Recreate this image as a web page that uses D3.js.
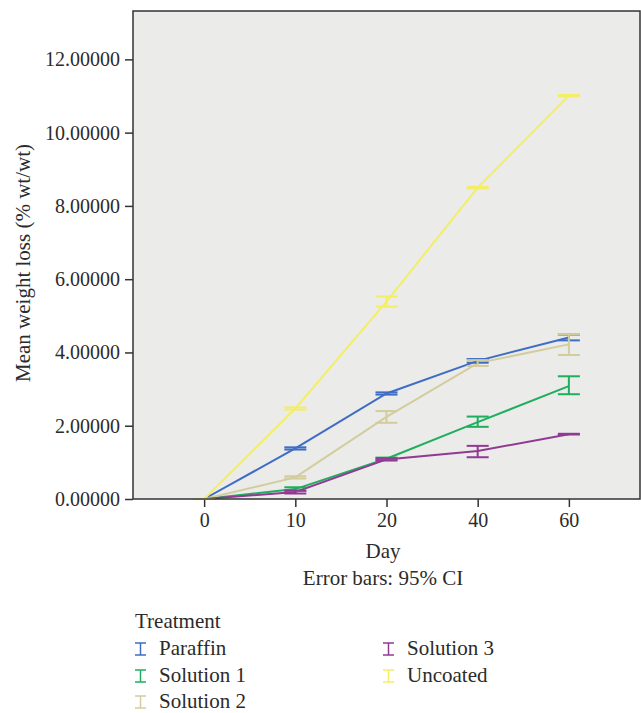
<!DOCTYPE html>
<html>
<head>
<meta charset="utf-8">
<script src="https://cdn.jsdelivr.net/npm/d3@7"></script>
<style>
body { margin: 0; background: #fff; }
svg text { font-family: "Liberation Serif", "DejaVu Serif", serif; fill: #2b2b2b; }
</style>
</head>
<body>
<div id="chart"></div>
<script>
// days on the x axis (categorical)
const days = ["0", "10", "20", "40", "60"];
const yTicks = [0, 2, 4, 6, 8, 10, 12];
const treatments = ["Paraffin", "Solution 1", "Solution 2", "Solution 3", "Uncoated"];
const colors = ["#3f6dc4", "#1fae5e", "#d3cc9c", "#913a93", "#f3ee66"];

// means, and 95% CI bounds
const paraffin     = [0, 1.38, 2.88, 3.77, 4.41];
const paraffinLo   = [0, 1.35, 2.85, 3.72, 4.33];
const paraffinHi   = [0, 1.41, 2.91, 3.82, 4.49];
const solution1    = [0, 0.27, 1.10, 2.10, 3.08];
const solution1Lo  = [0, 0.22, 1.07, 1.97, 2.86];
const solution1Hi  = [0, 0.32, 1.13, 2.25, 3.35];
const solution2    = [0, 0.59, 2.24, 3.71, 4.22];
const solution2Lo  = [0, 0.56, 2.08, 3.63, 3.93];
const solution2Hi  = [0, 0.62, 2.40, 3.79, 4.50];
const solution3    = [0, 0.19, 1.08, 1.31, 1.77];
const solution3Lo  = [0, 0.15, 1.05, 1.14, 1.76];
const solution3Hi  = [0, 0.23, 1.11, 1.45, 1.78];
const uncoated     = [0, 2.47, 5.39, 8.50, 11.01];
const uncoatedLo   = [0, 2.44, 5.25, 8.48, 10.99];
const uncoatedHi   = [0, 2.50, 5.53, 8.52, 11.03];

const series = [
  { name: treatments[0], mean: paraffin,  lo: paraffinLo,  hi: paraffinHi },
  { name: treatments[1], mean: solution1, lo: solution1Lo, hi: solution1Hi },
  { name: treatments[2], mean: solution2, lo: solution2Lo, hi: solution2Hi },
  { name: treatments[3], mean: solution3, lo: solution3Lo, hi: solution3Hi },
  { name: treatments[4], mean: uncoated,  lo: uncoatedLo,  hi: uncoatedHi }
];
series.forEach((s, i) => s.color = colors[i]);

const W = 641, H = 713;
const plot = { left: 133, right: 640, top: 11, bottom: 499 };

const svg = d3.select("#chart").append("svg")
  .attr("width", W).attr("height", H);

const x = d3.scalePoint()
  .domain(days)
  .range([plot.left, plot.right])
  .padding(0.78);

const y = d3.scaleLinear()
  .domain([0, 13.32])
  .range([plot.bottom, plot.top]);

// plot background
svg.append("rect")
  .attr("x", plot.left).attr("y", plot.top)
  .attr("width", plot.right - plot.left).attr("height", plot.bottom - plot.top)
  .attr("fill", "#ebebea");

// y axis
const yAxis = svg.append("g")
  .attr("transform", "translate(" + plot.left + ",0)")
  .call(d3.axisLeft(y).tickValues(yTicks).tickSize(8).tickSizeOuter(0).tickPadding(5)
    .tickFormat(d3.format(".5f")));
yAxis.select(".domain").remove();
yAxis.selectAll("line").attr("stroke", "#333").attr("stroke-width", 1.5);
yAxis.selectAll("text").style("font-size", "20px").attr("fill", "#2b2b2b");

// x axis
const xAxis = svg.append("g")
  .attr("transform", "translate(0," + plot.bottom + ")")
  .call(d3.axisBottom(x).tickSize(8).tickSizeOuter(0).tickPadding(6));
xAxis.select(".domain").remove();
xAxis.selectAll("line").attr("stroke", "#333").attr("stroke-width", 1.5);
xAxis.selectAll("text").style("font-size", "20px").attr("fill", "#2b2b2b");

// lines
const line = d3.line()
  .x((d, i) => x(days[i]))
  .y(d => y(d));

const g = svg.append("g");
series.forEach(s => {
  g.append("path")
    .datum(s.mean)
    .attr("fill", "none")
    .attr("stroke", s.color)
    .attr("stroke-width", 2)
    .attr("d", line);
});

// error bars
const cap = 11;
series.forEach(s => {
  const eb = g.append("g").attr("stroke", s.color).attr("stroke-width", 2).attr("fill", "none");
  days.forEach((d, i) => {
    const cx = x(d);
    eb.append("line").attr("x1", cx).attr("x2", cx)
      .attr("y1", y(s.lo[i])).attr("y2", y(s.hi[i]));
    eb.append("line").attr("x1", cx - cap).attr("x2", cx + cap)
      .attr("y1", y(s.lo[i])).attr("y2", y(s.lo[i]));
    eb.append("line").attr("x1", cx - cap).attr("x2", cx + cap)
      .attr("y1", y(s.hi[i])).attr("y2", y(s.hi[i]));
  });
});

// plot frame
svg.append("rect")
  .attr("x", plot.left).attr("y", plot.top)
  .attr("width", plot.right - plot.left).attr("height", plot.bottom - plot.top)
  .attr("fill", "none")
  .attr("stroke", "#333")
  .attr("stroke-width", 1.5);

// axis titles
svg.append("text")
  .attr("transform", "translate(30," + ((plot.top + plot.bottom) / 2 + 8) + ") rotate(-90)")
  .attr("text-anchor", "middle")
  .style("font-size", "21px")
  .text("Mean weight loss (% wt/wt)");

svg.append("text")
  .attr("x", 383).attr("y", 558)
  .attr("text-anchor", "middle")
  .style("font-size", "21px")
  .text("Day");

svg.append("text")
  .attr("x", 383).attr("y", 585)
  .attr("text-anchor", "middle")
  .style("font-size", "21px")
  .text("Error bars: 95% CI");

// legend
const legend = svg.append("g");
legend.append("text")
  .attr("x", 135).attr("y", 628)
  .style("font-size", "21px")
  .text("Treatment");

const legendPos = [
  [135, 649], [135, 676], [135, 702],
  [383, 649], [383, 676]
];
series.forEach((s, i) => {
  const [lx, ly] = legendPos[i];
  const item = legend.append("g").attr("transform", "translate(" + lx + "," + ly + ")");
  const sym = item.append("g").attr("stroke", s.color).attr("stroke-width", 1.5);
  sym.append("line").attr("x1", 0).attr("x2", 11).attr("y1", -6).attr("y2", -6);
  sym.append("line").attr("x1", 0).attr("x2", 11).attr("y1", 6).attr("y2", 6);
  sym.append("line").attr("x1", 5.5).attr("x2", 5.5).attr("y1", -6).attr("y2", 6);
  item.append("text")
    .attr("x", 24).attr("y", 6)
    .style("font-size", "21px")
    .text(s.name);
});
</script>
</body>
</html>
